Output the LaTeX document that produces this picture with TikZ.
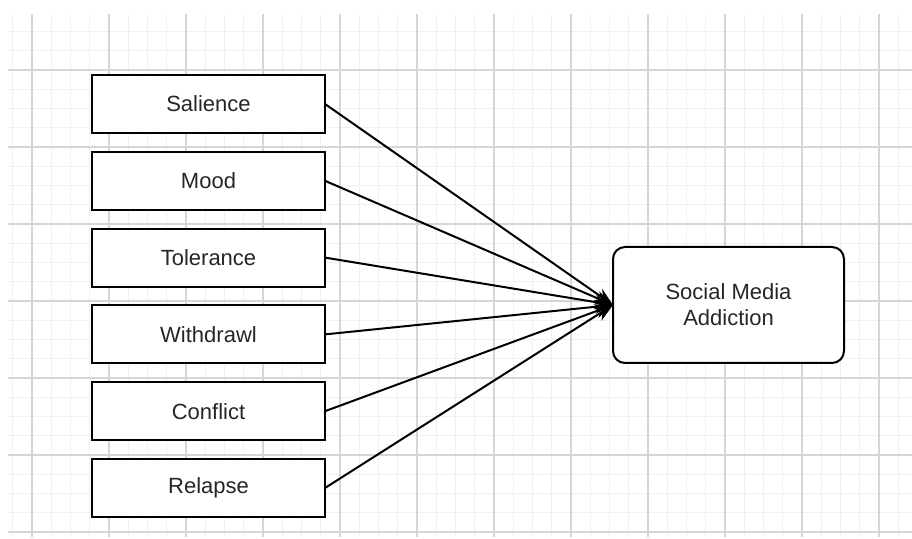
\documentclass[tikz,border=0pt]{standalone}
\usepackage{fontspec}
\setmainfont{Liberation Sans}
\usepackage{tikz}
\usetikzlibrary{arrows.meta,shapes}
\usetikzlibrary{positioning}

\begin{document}
\begin{tikzpicture}[node distance=9.4pt, font=\fontsize{11pt}{13pt}\selectfont]
\tikzstyle{factor} = [rectangle, draw = black, line width=1pt, fill=white, text=black!85, minimum width=116.5pt, minimum height=29pt, outer sep=0pt]
\tikzstyle{target} = [rectangle, rounded corners=6pt, draw = black, line width=1pt, fill=white, text=black!85, align=center, minimum width=115.5pt, minimum height=58pt, outer sep=0pt]
\tikzstyle{link} = [line width=1pt, -{Stealth[length=9pt,width=7pt]}]
\useasboundingbox (0,0) rectangle (456pt,-269.5pt);
% background grid
\begin{scope}[shift={(16pt,-35pt)}]
\draw [black!6, line width=0.5pt, step=9.625pt] (-12pt,28pt) grid (440pt,-233.5pt);
\draw [black!16, line width=0.6pt, step=38.5pt] (-12pt,28pt) grid (440pt,-233.5pt);
\end{scope}
\node (salience) [factor] at (104.25pt,-52pt) {Salience};
\node (mood) [factor, below = of salience] {Mood};
\node (tolerance) [factor, below = of mood] {Tolerance};
\node (withdrawl) [factor, below = of tolerance] {Withdrawl};
\node (conflict) [factor, below = of withdrawl] {Conflict};
\node (relapse) [factor, below = of conflict] {Relapse};
\node (sma) [target] at (364.25pt,-152.5pt) {Social Media\\Addiction};
\draw [link] (salience.east) -- (sma.west);
\draw [link] (mood.east) -- (sma.west);
\draw [link] (tolerance.east) -- (sma.west);
\draw [link] (withdrawl.east) -- (sma.west);
\draw [link] (conflict.east) -- (sma.west);
\draw [link] (relapse.east) -- (sma.west);
\end{tikzpicture}
\end{document}
